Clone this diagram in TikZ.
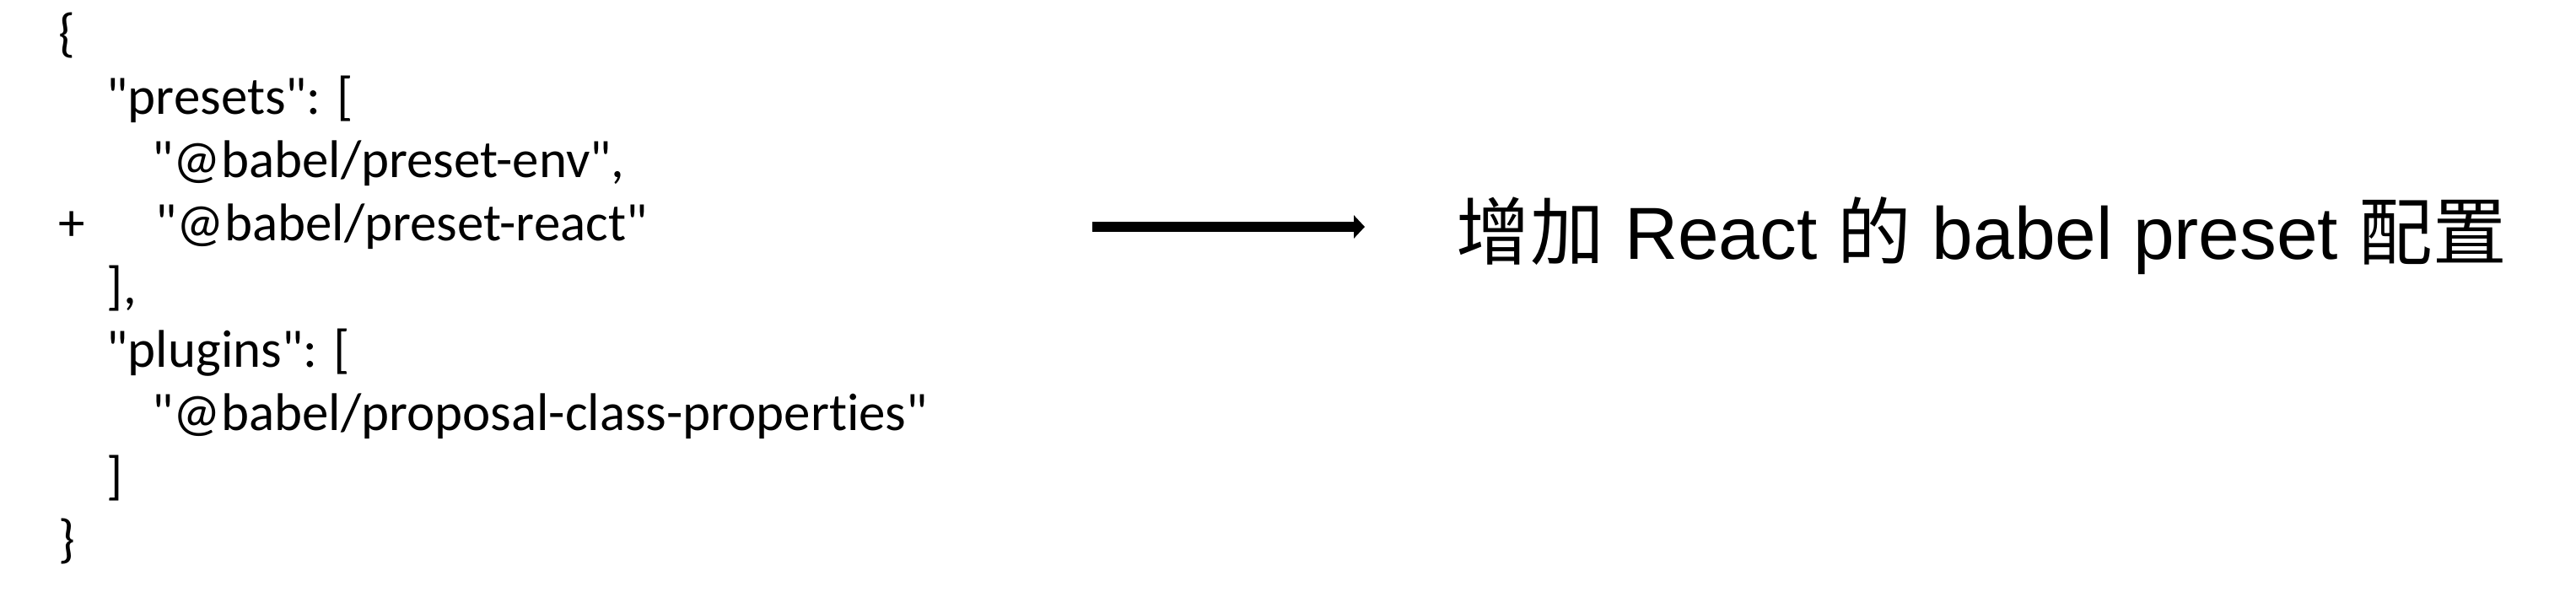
\documentclass[tikz,border=0pt]{standalone}
\usepackage{fontspec}
\usetikzlibrary{arrows.meta}
\newfontfamily\codefont{Carlito}[Ligatures=NoCommon]
\newfontfamily\cjk{Noto Sans CJK SC}
\newfontfamily\helv{Liberation Sans}

\tikzset{
    codeline/.style={anchor=base west, inner sep=0pt, font=\codefont\fontsize{17.9}{21}\selectfont},
    notetext/.style={anchor=west, inner sep=0pt, font=\helv\fontsize{24.9}{29}\selectfont},
    bigarrow/.style={line width=0.12cm, -{Triangle[length=0.13cm, width=0.27cm]}}
}

\begin{document}
\begin{tikzpicture}
        \useasboundingbox (0,0) rectangle (30.54,-7.26);

        % The babel config, line by line
        \node[codeline] (l1) at (0.69, -0.60) {\{};
        \node[codeline] (l2) at (1.26, -1.35) {"presets": [};
        \node[codeline] (l3) at (1.80, -2.10) {"@babel/preset-env",};
        \node[codeline] (plus) at (0.69, -2.85) {+};
        \node[codeline] (l4) at (1.84, -2.85) {"@babel/preset-react"};
        \node[codeline] (l5) at (1.26, -3.60) {],};
        \node[codeline] (l6) at (1.26, -4.35) {"plugins": [};
        \node[codeline] (l7) at (1.80, -5.10) {"@babel/proposal-class-properties"};
        \node[codeline] (l8) at (1.26, -5.85) {]};
        \node[codeline] (l9) at (0.69, -6.60) {\}};

        % Explanation on the right
        \node[notetext] (note) at (17.26, -2.80) {{\cjk 增加} React {\cjk 的} babel preset {\cjk 配置}};

        % Arrow pointing to the explanation
        \coordinate (from) at (12.95, -2.69);
        \draw[bigarrow, shorten >=1.08cm] (from) -- (from -| note.west);
    \end{tikzpicture}
\end{document}
